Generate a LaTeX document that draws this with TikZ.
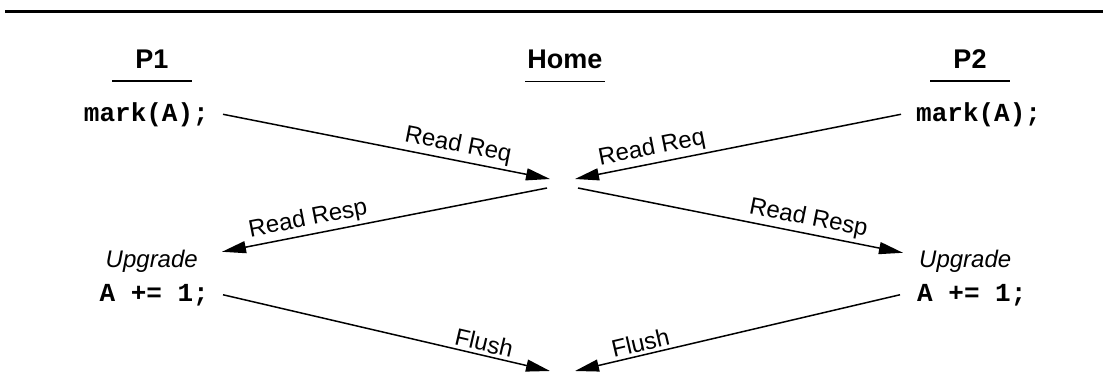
\documentclass[tikz,border=0pt]{standalone}
\usepackage{fontspec}
\setmainfont{Liberation Sans}
\setmonofont{Liberation Mono}
\usetikzlibrary{arrows.meta, positioning}

\begin{document}
\begin{tikzpicture}[
		x=1pt, y=-1pt,
		title/.style={font=\fontsize{27}{32}\selectfont\bfseries, inner sep=0pt},
		code/.style={font=\fontsize{26}{30}\selectfont\ttfamily\bfseries, inner sep=0pt},
		state/.style={font=\fontsize{24}{28}\selectfont\itshape, inner sep=0pt},
		msg/.style={-{Triangle[length=24pt, width=12pt]}, line width=1.5pt},
		lbl/.style={font=\fontsize{24}{28}\selectfont, sloped, above, inner sep=3pt},
		uline/.style={line width=1.5pt}
		]
		\useasboundingbox (0,0) rectangle (1103,373);
		\draw[line width=3pt] (5,11) -- (1103,11);
		
		% Nodes
		\node[title, anchor=base] (p1) at (152,68) {P1};
		\node[title, anchor=base] (home) at (565,68) {Home};
		\node[title, anchor=base] (p2) at (970,68) {P2};
		\draw[uline] ([shift={(-40,13)}]p1.south) -- ++(80,0);
		\draw[uline] ([shift={(-40,13)}]home.south) -- ++(80,0);
		\draw[uline] ([shift={(-40,13)}]p2.south) -- ++(80,0);
		
		\node[code, anchor=base east] (mark1) at (209,121) {mark(A);};
		\node[state, anchor=base east] (upg1) at (198,267) {Upgrade};
		\node[code, anchor=base east] (inc1) at (209,301) {A += 1;};
		\node[code, anchor=base west] (mark2) at (916,121) {mark(A);};
		\node[state, anchor=base west] (upg2) at (919,267) {Upgrade};
		\node[code, anchor=base west] (inc2) at (917,301) {A += 1;};
		
		% points at the home node
		\coordinate (req1) at (550,179);
		\coordinate (req2) at (575,179);
		\coordinate (resp1) at (547,188);
		\coordinate (resp2) at (578,188);
		\coordinate (fl1) at (550,371);
		\coordinate (fl2) at (575,371);
		
		% Arrows
		\draw[msg] ([xshift=14pt]mark1.east) -- node[lbl, pos=0.71] {Read Req} (req1);
		\draw[msg] ([xshift=-15pt]mark2.west) -- node[lbl, pos=0.755] {Read Req} (req2);
		\draw[msg] (resp1) -- node[lbl, pos=0.726] {Read Resp} ([shift={(24,-9)}]upg1.east);
		\draw[msg] (resp2) -- node[lbl, pos=0.70] {Read Resp} ([shift={(-16,-8)}]upg2.west);
		\draw[msg] ([xshift=14pt]inc1.east) -- node[lbl, pos=0.79] {Flush} (fl1);
		\draw[msg] ([xshift=-17pt]inc2.west) -- node[lbl, pos=0.79] {Flush} (fl2);
	\end{tikzpicture}
\end{document}
